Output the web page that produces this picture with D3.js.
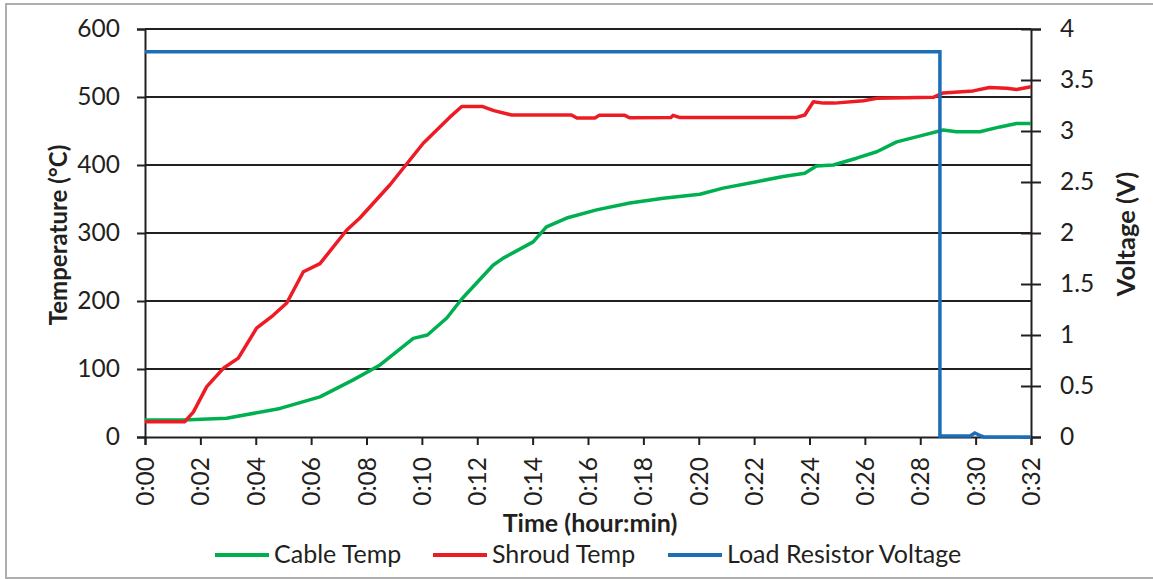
<!DOCTYPE html>
<html>
<head>
<meta charset="utf-8">
<script src="https://cdn.jsdelivr.net/npm/d3@7"></script>
<style>
  html, body { margin: 0; padding: 0; background: #ffffff; }
  svg { display: block; }
  text { font-family: Lato, "Open Sans", sans-serif; fill: #231f20; }
</style>
</head>
<body>
<svg id="chart" width="1153" height="579"></svg>
<script>
// ---- Data (time in minutes) ----
const xTickValues = [0,2,4,6,8,10,12,14,16,18,20,22,24,26,28,30,32];
const yLeftTicks = [0,100,200,300,400,500,600];
const yRightTicks = [0,0.5,1,1.5,2,2.5,3,3.5,4];

const cableTime = [0,1.37,2.95,4.88,6.32,7.52,8.49,9.69,10.2,10.9,11.44,12.58,12.94,14.02,14.5,15.23,16.31,17.51,18.72,20.04,20.88,22.09,23.05,23.83,24.25,24.86,25.7,26.43,27.15,28.11,28.83,29.31,30.15,30.88,31.48,32];
const cableTemp = [25,25,27.5,42,59,84,106,145,150,175,203,253,263,287,309,322,334,344,351,357,366,375.5,383,388,398.5,400,410,419.5,434,444,451.5,449,449,456,461,461];

const shroudTime = [0,1.44,1.75,2.23,2.83,3.37,4.03,4.63,5.12,5.72,6.32,7.28,7.76,8.85,10.05,11.0,11.44,12.2,12.6,13.24,15.4,15.6,16.25,16.4,17.33,17.5,19.0,19.07,19.3,23.53,23.83,24.14,24.5,24.9,25.95,26.43,28.47,28.83,29.91,30.5,31.12,31.48,32];
const shroudTemp = [22.5,22.5,37,74,101,116,160,179,197,243,255,304,322,371,432,470,486,486,480,473.5,473.5,469,469,473,473,469.5,470,473,470,470,473.5,493,491,491,494.5,498,499.5,506,509,514,513,511,515];

const voltTime = [0,28.71,28.71,29.8,29.97,30.2,30.3,32];
const voltValue = [3.777,3.777,0.01,0.01,0.04,0.01,0,0];

const seriesNames = ["Cable Temp","Shroud Temp","Load Resistor Voltage"];
const seriesColors = ["#00b050","#ed1c24","#1c6eb8"];

// ---- Layout ----
const svg = d3.select("#chart");
const L = 145, R = 1031, T = 29, B = 437;
const ink = "#231f20";

// outer border
svg.append("rect").attr("x",6).attr("y",4).attr("width",1160).attr("height",574)
  .attr("fill","none").attr("stroke","#a6a6a6").attr("stroke-width",1.8);

const x = d3.scaleLinear().domain([0,32]).range([L,R]);
const yL = d3.scaleLinear().domain([0,600]).range([B,T]);
const yR = d3.scaleLinear().domain([0,4]).range([B,T]);

// gridlines
svg.append("g").selectAll("line").data(yLeftTicks.filter(d=>d>0)).join("line")
  .attr("x1",L).attr("x2",R).attr("y1",d=>yL(d)).attr("y2",d=>yL(d))
  .attr("stroke",ink).attr("stroke-width",2);

// left axis
const gL = svg.append("g").attr("transform",`translate(${L},0)`)
  .call(d3.axisLeft(yL).tickValues(yLeftTicks).tickSize(8).tickPadding(17).tickFormat(d3.format("d")));
// right axis
const gR = svg.append("g").attr("transform",`translate(${R},0)`)
  .call(d3.axisRight(yR).tickValues(yRightTicks).tickSize(10).tickPadding(19).tickFormat(d=>String(d)));
gR.selectAll(".tick line").attr("x1",-10);
// bottom axis
const gB = svg.append("g").attr("transform",`translate(0,${B})`)
  .call(d3.axisBottom(x).tickValues(xTickValues).tickSize(8)
    .tickFormat(d=>"0:"+String(d).padStart(2,"0")));
gB.selectAll(".tick text")
  .attr("transform","rotate(-90)")
  .attr("x",-20).attr("y",0).attr("dy","0.35em")
  .attr("text-anchor","end");

[gL,gR,gB].forEach(g=>{
  g.selectAll(".domain").attr("stroke",ink).attr("stroke-width",2);
  g.selectAll(".tick line").attr("stroke",ink).attr("stroke-width",2);
  g.selectAll(".tick text").style("font-family","Lato, sans-serif").style("font-size","24.5px").attr("fill",ink);
});

// lines
const mk = (xs, ys, yScale) => d3.line().x((d,i)=>x(xs[i])).y((d,i)=>yScale(ys[i]))(xs);
svg.append("path").attr("d",mk(cableTime,cableTemp,yL)).attr("fill","none")
  .attr("stroke",seriesColors[0]).attr("stroke-width",3.5).attr("stroke-linejoin","round");
svg.append("path").attr("d",mk(shroudTime,shroudTemp,yL)).attr("fill","none")
  .attr("stroke",seriesColors[1]).attr("stroke-width",3.5).attr("stroke-linejoin","round");
svg.append("path").attr("d",mk(voltTime,voltValue,yR)).attr("fill","none")
  .attr("stroke",seriesColors[2]).attr("stroke-width",3.5);

// axis titles
svg.append("text").attr("transform","translate(67,235) rotate(-90)")
  .attr("text-anchor","middle").style("font-weight","bold").style("font-size","24px")
  .text("Temperature (°C)");
svg.append("text").attr("transform","translate(1135,234) rotate(-90)")
  .attr("text-anchor","middle").style("font-weight","bold").style("font-size","25.5px")
  .text("Voltage (V)");
svg.append("text").attr("x",590).attr("y",532)
  .attr("text-anchor","middle").style("font-weight","bold").style("font-size","25px")
  .text("Time (hour:min)");

// legend
const legX = [215, 433, 668];
const leg = svg.append("g");
seriesNames.forEach((n,i)=>{
  leg.append("line").attr("x1",legX[i]).attr("x2",legX[i]+54).attr("y1",555).attr("y2",555)
    .attr("stroke",seriesColors[i]).attr("stroke-width",4);
  leg.append("text").attr("x",legX[i]+59).attr("y",563).style("font-size","25px").text(n);
});
</script>
</body>
</html>
